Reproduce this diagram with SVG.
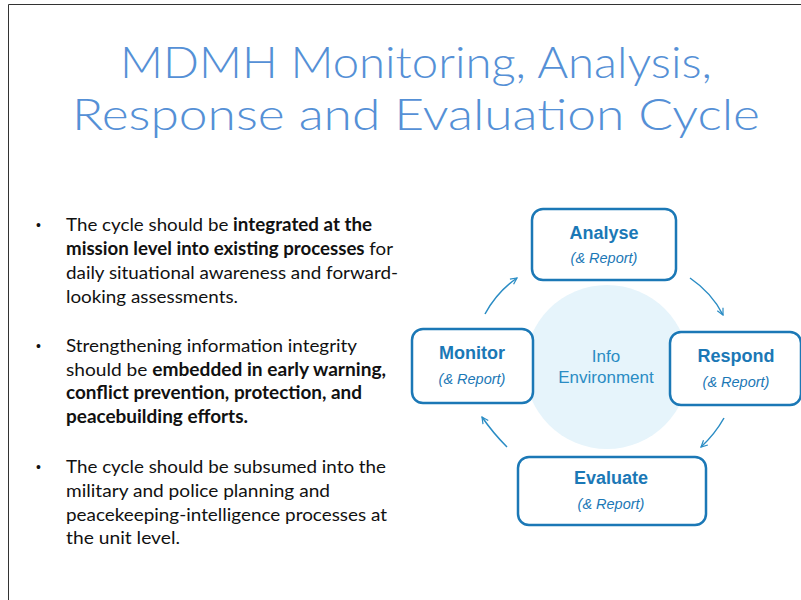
<svg xmlns="http://www.w3.org/2000/svg" width="801" height="600" viewBox="0 0 801 600">
<defs>
<style>
.title{font-family:"Lato","Liberation Sans",sans-serif;font-size:44px;font-weight:300;fill:#5590d6;text-anchor:middle}
.body{font-family:"Lato","Liberation Sans",sans-serif;font-size:18px;fill:#111}
.dot{font-family:"Liberation Sans",sans-serif;font-size:14px;fill:#111}
.b{font-weight:bold}
.box{fill:#fff;stroke:#1b78b6;stroke-width:2.5}
.lbl{font-family:"Liberation Sans",Arial,sans-serif;font-size:18px;font-weight:bold;fill:#1b78b6;text-anchor:middle}
.sub{font-family:"Liberation Sans",Arial,sans-serif;font-size:14.5px;font-style:italic;fill:#1b78b6;text-anchor:middle}
.info{font-family:"Liberation Sans",Arial,sans-serif;font-size:17px;fill:#2a8cc4;text-anchor:middle}
.arr{fill:none;stroke:#2a8cc4;stroke-width:1.5;marker-end:url(#ah)}
</style>
<marker id="ah" viewBox="0 0 10 10" refX="9" refY="5" markerWidth="8" markerHeight="8" orient="auto" markerUnits="userSpaceOnUse">
<path d="M1,1 L9,5 L1,9" fill="none" stroke="#2a8cc4" stroke-width="1.5"/>
</marker>
</defs>
<rect width="801" height="600" fill="#fff"/>
<path d="M8.5,600 V4.5 H801" fill="none" stroke="#333" stroke-width="1"/>
<g id="title">
<text class="title" x="416" y="78" textLength="592" lengthAdjust="spacingAndGlyphs">MDMH Monitoring, Analysis,</text>
<text class="title" x="416" y="130" textLength="688" lengthAdjust="spacingAndGlyphs">Response and Evaluation Cycle</text>
</g>
<g id="bullets" class="body">
<text class="dot" x="36" y="230">•</text>
<text x="66" y="231" textLength="306" lengthAdjust="spacingAndGlyphs">The cycle should be <tspan class="b">integrated at the</tspan></text>
<text x="66" y="255" textLength="327" lengthAdjust="spacingAndGlyphs"><tspan class="b">mission level into existing processes</tspan> for</text>
<text x="66" y="279" textLength="332" lengthAdjust="spacingAndGlyphs">daily situational awareness and forward-</text>
<text x="66" y="303" textLength="172" lengthAdjust="spacingAndGlyphs">looking assessments.</text>
<text class="dot" x="36" y="351">•</text>
<text x="66" y="352" textLength="291" lengthAdjust="spacingAndGlyphs">Strengthening information integrity</text>
<text x="66" y="376" textLength="320" lengthAdjust="spacingAndGlyphs">should be <tspan class="b">embedded in early warning,</tspan></text>
<text x="66" y="399" textLength="296" lengthAdjust="spacingAndGlyphs" class="b">conflict prevention, protection, and</text>
<text x="66" y="423" textLength="182" lengthAdjust="spacingAndGlyphs" class="b">peacebuilding efforts.</text>
<text class="dot" x="36" y="472">•</text>
<text x="66" y="473" textLength="320" lengthAdjust="spacingAndGlyphs">The cycle should be subsumed into the</text>
<text x="66" y="497" textLength="264" lengthAdjust="spacingAndGlyphs">military and police planning and</text>
<text x="66" y="521" textLength="321" lengthAdjust="spacingAndGlyphs">peacekeeping-intelligence processes at</text>
<text x="66" y="544" textLength="114" lengthAdjust="spacingAndGlyphs">the unit level.</text>
</g>
<g id="info-environment">
<circle cx="607" cy="367" r="82" fill="#e6f4fb"/>
<text class="info" x="606" y="362">Info</text>
<text class="info" x="606" y="383">Environment</text>
</g>
<g id="connectors">
<path class="arr" d="M485,314 Q497,292 517,278"/>
<path class="arr" d="M690,278 Q712,293 723,315"/>
<path class="arr" d="M724,418 Q715,434 701,447"/>
<path class="arr" d="M507,447 Q493,433 482,417"/>
</g>
<g id="analyse">
<rect class="box" x="532" y="209" width="144" height="71" rx="11"/>
<text class="lbl" x="604" y="239">Analyse</text>
<text class="sub" x="604" y="263">(&amp; Report)</text>
</g>
<g id="monitor">
<rect class="box" x="412" y="329" width="121" height="74" rx="11"/>
<text class="lbl" x="472" y="359">Monitor</text>
<text class="sub" x="472" y="384">(&amp; Report)</text>
</g>
<g id="respond">
<rect class="box" x="670" y="332" width="131" height="73" rx="11"/>
<text class="lbl" x="736" y="362">Respond</text>
<text class="sub" x="736" y="387">(&amp; Report)</text>
</g>
<g id="evaluate">
<rect class="box" x="518" y="457" width="188" height="68" rx="11"/>
<text class="lbl" x="611" y="484">Evaluate</text>
<text class="sub" x="611" y="509">(&amp; Report)</text>
</g>
</svg>
